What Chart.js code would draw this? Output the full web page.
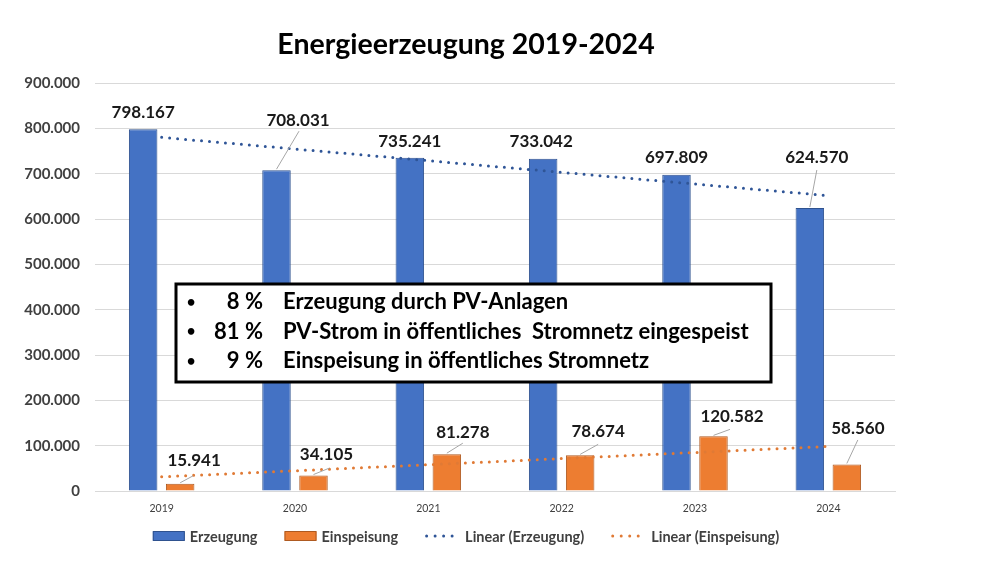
<!DOCTYPE html>
<html>
<head>
<meta charset="utf-8">
<script src="https://cdn.jsdelivr.net/npm/chart.js@4.4.1/dist/chart.umd.min.js"></script>
<style>
  html, body { margin: 0; padding: 0; background: #ffffff; }
  #wrap { position: absolute; left: 0; top: 0; width: 932px; height: 588px; }
</style>
</head>
<body>
<div id="wrap"><canvas id="c"></canvas></div>
<script>
// ---- data ----
const years = ['2019', '2020', '2021', '2022', '2023', '2024'];
const erzeugung = [798167, 708031, 735241, 733042, 697809, 624570];
const einspeisung = [15941, 34105, 81278, 78674, 120582, 58560];
// trend lines (Excel "Linear" trendlines)
const trendErzeugung = [780500, 754800, 729000, 703300, 677500, 651800];
const trendEinspeisung = [31300, 44700, 58100, 71600, 85000, 98400];
const yTicks = [0, 100000, 200000, 300000, 400000, 500000, 600000, 700000, 800000, 900000];
const titleText = 'Energieerzeugung 2019-2024';
const seriesNames = ['Erzeugung', 'Einspeisung', 'Linear (Erzeugung)', 'Linear (Einspeisung)'];
const notePercents = ['8 %', '81 %', '9 %'];
const noteTexts = ['Erzeugung durch PV-Anlagen', 'PV-Strom in öffentliches  Stromnetz eingespeist', 'Einspeisung in öffentliches Stromnetz'];

// ---- styling ----
const FONT = 'Lato, "Open Sans", sans-serif';
const fmt = v => String(Math.round(v)).replace(/\B(?=(\d{3})+(?!\d))/g, '.');

// label placement (pixel offsets from bar top centre) and leader-line starts (offset from label centre)
const labelStyle = [
  { off: [[0, -16.5], [21.5, -50], [0, -16], [-2, -17], [0, -17], [7, -50]],
    lead: [null, [1, 11], null, null, null, [0, 12]] },
  { off: [[14, -23], [13, -21.5], [16, -22], [18, -24], [18.5, -20], [11, -35.5]],
    lead: [[-1, 15], [3, 14], [0, 11], [0, 13], [-2, 13], [0, 11]] }
];

const labelPlugin = {
  id: 'barLabels',
  afterDatasetsDraw(chart) {
    const ctx = chart.ctx;
    ctx.save();
    [0, 1].forEach(di => {
      const meta = chart.getDatasetMeta(di);
      const ds = chart.data.datasets[di];
      meta.data.forEach((bar, i) => {
        const o = labelStyle[di].off[i];
        const lx = bar.x + o[0], ly = bar.y + o[1];
        const ld = labelStyle[di].lead[i];
        if (ld) {
          ctx.beginPath();
          ctx.strokeStyle = '#a6a6a6';
          ctx.lineWidth = 1;
          ctx.moveTo(lx + ld[0], ly + ld[1]);
          ctx.lineTo(bar.x, bar.y - 1);
          ctx.stroke();
        }
        ctx.font = 'bold 17px ' + FONT;
        ctx.fillStyle = '#1a1a1a';
        ctx.textAlign = 'center';
        ctx.textBaseline = 'middle';
        ctx.fillText(fmt(ds.data[i]), lx, ly);
      });
    });
    ctx.restore();
  }
};

const notePlugin = {
  id: 'noteBox',
  afterDraw(chart) {
    const ctx = chart.ctx;
    ctx.save();
    const x0 = 176, y0 = 284, w = 595, h = 98;
    ctx.fillStyle = '#ffffff';
    ctx.fillRect(x0, y0, w, h);
    ctx.strokeStyle = '#000000';
    ctx.lineWidth = 3;
    ctx.strokeRect(x0, y0, w, h);
    ctx.fillStyle = '#000000';
    ctx.textBaseline = 'middle';
    notePercents.forEach((p, i) => {
      const y = y0 + 18 + i * 29.5;
      ctx.font = 'bold 15px ' + FONT;
      ctx.textAlign = 'center';
      ctx.fillText('•', 191, y);
      ctx.font = 'bold 22px ' + FONT;
      ctx.textAlign = 'right';
      ctx.fillText(p, 263, y);
      ctx.textAlign = 'left';
      ctx.fillText(noteTexts[i], 283, y);
    });
    ctx.restore();
  }
};

// legend drawn below the x axis, centred like the title
const legendPlugin = {
  id: 'bottomLegend',
  afterDraw(chart) {
    const ctx = chart.ctx;
    ctx.save();
    ctx.font = 'bold 14.5px ' + FONT;
    ctx.textBaseline = 'middle';
    ctx.textAlign = 'left';
    const y = 536, gapText = 5, gapItem = 27;
    const items = chart.data.datasets.map(ds => {
      const isLine = ds.type === 'line';
      const sw = isLine ? 35 : 32;
      return { ds, isLine, sw, tw: ctx.measureText(ds.label).width };
    });
    const total = items.reduce((a, it) => a + it.sw + gapText + it.tw, 0) + gapItem * (items.length - 1);
    let x = chart.width / 2 - total / 2;
    items.forEach(it => {
      if (it.isLine) {
        ctx.beginPath();
        ctx.strokeStyle = it.ds.borderColor;
        ctx.lineWidth = 3;
        ctx.lineCap = 'round';
        ctx.setLineDash([0, 8.5]);
        ctx.moveTo(x + 1.5, y);
        ctx.lineTo(x + it.sw, y);
        ctx.stroke();
        ctx.setLineDash([]);
      } else {
        ctx.fillStyle = it.ds.backgroundColor;
        ctx.fillRect(x, y - 4.5, it.sw, 9);
        ctx.strokeStyle = it.ds.borderColor;
        ctx.lineWidth = 1;
        ctx.strokeRect(x + 0.5, y - 4.5, it.sw - 1, 9);
      }
      x += it.sw + gapText;
      ctx.fillStyle = '#404040';
      ctx.fillText(it.ds.label, x, y + 1);
      x += it.tw + gapItem;
    });
    ctx.restore();
  }
};

new Chart(document.getElementById('c'), {
  data: {
    labels: years,
    datasets: [
      { type: 'bar', label: seriesNames[0], data: erzeugung, backgroundColor: '#4472C4', borderColor: '#2F528F', borderWidth: 1, order: 2,
        categoryPercentage: 0.555, barPercentage: 0.77 },
      { type: 'bar', label: seriesNames[1], data: einspeisung, backgroundColor: '#ED7D31', borderColor: '#AE5A21', borderWidth: 1, order: 2,
        categoryPercentage: 0.555, barPercentage: 0.77 },
      { type: 'line', label: seriesNames[2], data: trendErzeugung, borderColor: '#2F5597', borderWidth: 3, borderDash: [0, 8],
        borderCapStyle: 'round', pointRadius: 0, fill: false, tension: 0, order: 1 },
      { type: 'line', label: seriesNames[3], data: trendEinspeisung, borderColor: '#E07A35', borderWidth: 3, borderDash: [0, 8],
        borderCapStyle: 'round', pointRadius: 0, fill: false, tension: 0, order: 1 }
    ]
  },
  options: {
    responsive: true,
    maintainAspectRatio: false,
    animation: false,
    layout: { padding: { left: 0, right: 0, top: 0, bottom: 69 } },
    scales: {
      x: {
        grid: { display: false, drawTicks: false },
        border: { display: true, color: '#d9d9d9', width: 1 },
        ticks: { color: '#404040', font: { family: FONT, size: 10.5 }, padding: 11 },
        afterFit(s) { s.height = 28; }
      },
      y: {
        min: 0, max: 900000,
        afterBuildTicks(s) { s.ticks = yTicks.map(v => ({ value: v })); },
        grid: { color: '#d9d9d9', drawTicks: false },
        border: { display: false },
        ticks: { color: '#404040', font: { family: FONT, size: 15, weight: 'bold' }, padding: 15, callback: v => fmt(v) },
        afterFit(s) { s.width = 95; }
      },
      yRightSpace: {
        position: 'right', min: 0, max: 1,
        grid: { display: false, drawTicks: false },
        border: { display: false },
        ticks: { display: false },
        afterFit(s) { s.width = 37; }
      }
    },
    plugins: {
      tooltip: { enabled: false },
      legend: { display: false },
      title: {
        display: true, text: titleText, color: '#000000',
        font: { family: FONT, size: 28.5, weight: 'bold' },
        padding: { top: 28, bottom: 21 }
      }
    }
  },
  plugins: [labelPlugin, notePlugin, legendPlugin]
});
</script>
</body>
</html>
